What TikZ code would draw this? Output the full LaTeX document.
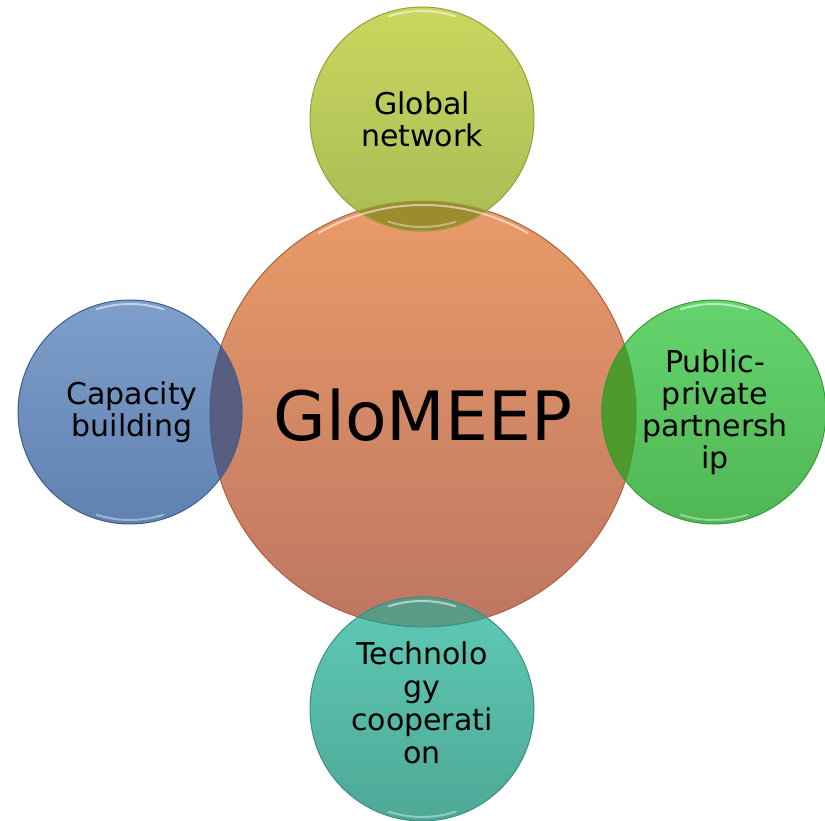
\documentclass[tikz,border=0pt]{standalone}
\usepackage{fontspec}
\setmainfont{DejaVu Sans}
\usetikzlibrary{calc}
\begin{document}
\begin{tikzpicture}[x=1pt,y=-1pt,
  bigc/.style={circle,inner sep=0pt,outer sep=0pt,minimum size=426pt,line width=1pt},
  smallc/.style={circle,inner sep=0pt,outer sep=0pt,minimum size=224pt,line width=1pt},
  lbl/.style={align=center,font=\fontsize{30}{32}\selectfont,text=black},
  hl/.style={white,line width=2pt,opacity=0.55,line cap=round}]
\definecolor{cTopA}{HTML}{E99B67}\definecolor{cBotA}{HTML}{BE7663}\definecolor{cBrd}{HTML}{B0603A}
\definecolor{yTop}{HTML}{CAD65E}\definecolor{yBot}{HTML}{A8BC55}\definecolor{yBrd}{HTML}{9A9E3A}\definecolor{yOv}{HTML}{9C8C2E}
\definecolor{bTop}{HTML}{7E9ECB}\definecolor{bBot}{HTML}{6082B0}\definecolor{bBrd}{HTML}{3E5E90}\definecolor{bOv}{HTML}{575E80}
\definecolor{gTop}{HTML}{64D46E}\definecolor{gBot}{HTML}{50B654}\definecolor{gBrd}{HTML}{3A9A38}\definecolor{gOv}{HTML}{4E9A2C}
\definecolor{tTop}{HTML}{5ECAB6}\definecolor{tBot}{HTML}{4EA896}\definecolor{tBrd}{HTML}{3A9080}\definecolor{tOv}{HTML}{5A9B86}
\useasboundingbox (0,0) rectangle (825,821);
% central circle
\node[bigc,top color=cTopA,bottom color=cBotA,draw=cBrd] (core) at (423,414) {};
% satellites
\node[smallc,top color=yTop,bottom color=yBot,draw=yBrd] (glob) at (422,119) {};
\node[smallc,top color=bTop,bottom color=bBot,draw=bBrd] (cap) at (130,412) {};
\node[smallc,top color=gTop,bottom color=gBot,draw=gBrd] (ppp) at (714,412) {};
\node[smallc,top color=tTop,bottom color=tBot,draw=tBrd] (tech) at (422,709) {};
% overlaps
\begin{scope}
  \clip (core.center) circle (213);
  \fill[yOv] (glob.center) circle (112);
  \fill[bOv] (cap.center) circle (112);
  \fill[gOv] (ppp.center) circle (112);
  \fill[tOv] (tech.center) circle (112);
  \draw[yBrd,line width=1pt] (glob.center) circle (112);
  \draw[bBrd,line width=1pt] (cap.center) circle (112);
  \draw[gBrd,line width=1pt] (ppp.center) circle (112);
  \draw[tBrd,line width=1pt] (tech.center) circle (112);
\end{scope}
\foreach \n/\c in {glob/yBrd,cap/bBrd,ppp/gBrd,tech/tBrd}{
  \begin{scope}
    \clip (\n.center) circle (112);
    \draw[\c,line width=1pt] (core.center) circle (213);
  \end{scope}
}
% glossy highlights
\draw[hl] (core.center) ++(-120:209) arc[start angle=-120,end angle=-60,radius=209];
\foreach \n in {glob,cap,ppp,tech}{
  \draw[hl] (\n.center) ++(-108:108) arc[start angle=-108,end angle=-72,radius=108];
  \draw[hl,opacity=0.4] (\n.center) ++(108:108) arc[start angle=108,end angle=72,radius=108];
}
% labels
\node[font=\fontsize{68}{80}\selectfont] (coretxt) at (423,415) {GloMEEP};
\node[lbl] (globtxt) at (422,119) {Global\\network};
\node[lbl] (captxt) at (132,412) {Capacity\\building};
\node[lbl] (ppptxt) at (715,412) {Public-\\private\\partnersh\\ip};
\node[lbl,font=\fontsize{30}{33}\selectfont] (techtxt) at (422,703) {Technolo\\gy\\cooperati\\on};
\end{tikzpicture}
\end{document}
